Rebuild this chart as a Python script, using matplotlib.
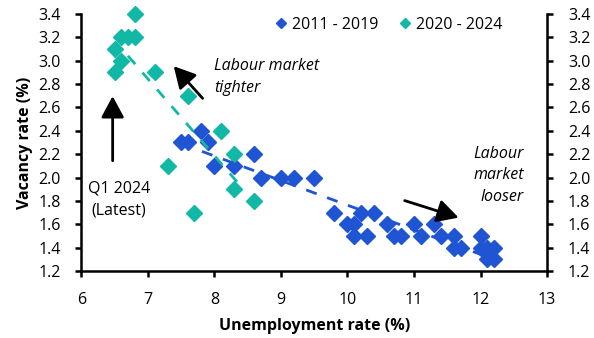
import matplotlib
matplotlib.use("Agg")
import matplotlib.pyplot as plt
import numpy as np

plt.rcParams['font.family'] = ['Open Sans', 'DejaVu Sans']

# 2011 - 2019 (unemployment %, vacancy %)
unemp_1119 = [7.5, 7.6, 7.8, 7.9, 8.0, 8.3, 8.6, 8.7, 9.0, 9.2, 9.5,
              9.8, 10.0, 10.1, 10.1, 10.2, 10.3, 10.4, 10.6, 10.7, 10.8,
              11.0, 11.1, 11.3, 11.4, 11.6, 11.6, 11.7, 12.0, 12.0, 12.1,
              12.2, 12.1, 12.2]
vac_1119 = [2.3, 2.3, 2.4, 2.3, 2.1, 2.1, 2.2, 2.0, 2.0, 2.0, 2.0,
            1.7, 1.6, 1.6, 1.5, 1.7, 1.5, 1.7, 1.6, 1.5, 1.5,
            1.6, 1.5, 1.6, 1.5, 1.5, 1.4, 1.4, 1.5, 1.4, 1.4,
            1.4, 1.3, 1.3]

# 2020 - 2024
unemp_2024 = [6.5, 6.5, 6.6, 6.6, 6.7, 6.8, 6.8, 7.1, 7.6, 8.1, 8.3,
              7.3, 8.3, 8.6, 7.7]
vac_2024 = [3.1, 2.9, 3.2, 3.0, 3.2, 3.2, 3.4, 2.9, 2.7, 2.4, 2.2,
            2.1, 1.9, 1.8, 1.7]

blue = '#1F55D2'
teal = '#12B8A6'

fig = plt.figure(figsize=(5.94, 3.38), dpi=100)
ax = fig.add_axes([0.137, 0.198, 0.784, 0.761])

ax.plot(unemp_1119, vac_1119, 'D', color=blue, markersize=8.5,
        label='2011 - 2019', clip_on=False)
ax.plot(unemp_2024, vac_2024, 'D', color=teal, markersize=8.5,
        label='2020 - 2024', clip_on=False)

# linear trends
for x, y, c, lo, hi in [(unemp_1119, vac_1119, blue, 7.5, 12.2),
                        (unemp_2024, vac_2024, teal, 6.7, 8.45)]:
    m, b = np.polyfit(x, y, 1)
    xs = np.array([lo, hi])
    ax.plot(xs, m * xs + b, color=c, lw=2, dashes=(4, 4))

ax.set_xlim(6, 13)
ax.set_ylim(1.2, 3.4)
ax.set_xticks(range(6, 14))
ax.set_yticks(np.arange(1.2, 3.41, 0.2))
ax.yaxis.set_major_formatter(matplotlib.ticker.FormatStrFormatter('%.1f'))
ax.tick_params(direction='out', length=4, width=1.8, labelsize=11.5,
               right=True, labelright=True, pad=11)
ax.spines['top'].set_visible(False)
for s in ['left', 'right', 'bottom']:
    ax.spines[s].set_linewidth(1.8)

ax.set_xlabel('Unemployment rate (%)', fontsize=11.5, fontweight='bold', labelpad=7)
ax.set_ylabel('Vacancy rate (%)', fontsize=11.5, fontweight='bold', labelpad=4)

leg = ax.legend(loc='upper left', bbox_to_anchor=(0.385, 1.045), ncol=2, frameon=False,
                fontsize=11.5, markerscale=0.55, handlelength=0.7,
                handletextpad=0.35, columnspacing=1.3)

arrow = dict(arrowstyle='-|>,head_width=0.7,head_length=1.3', color='black', lw=2)
ax.annotate('', xy=(6.47, 2.72), xytext=(6.47, 2.12), arrowprops=arrow)
ax.annotate('', xy=(7.36, 2.97), xytext=(7.85, 2.66), arrowprops=arrow)
ax.annotate('', xy=(11.71, 1.65), xytext=(10.82, 1.81), arrowprops=arrow)

ax.text(8.0, 2.86, 'Labour market\ntighter', fontsize=11.5, style='italic',
        ha='left', va='center', linespacing=1.45)
ax.text(12.65, 2.02, 'Labour\nmarket\nlooser', fontsize=11.5, style='italic',
        ha='right', va='center', multialignment='right', linespacing=1.45)
ax.text(6.56, 1.81, 'Q1 2024\n(Latest)', fontsize=11.5, ha='center', va='center',
        linespacing=1.5)

fig.savefig('out.png', dpi=100)
